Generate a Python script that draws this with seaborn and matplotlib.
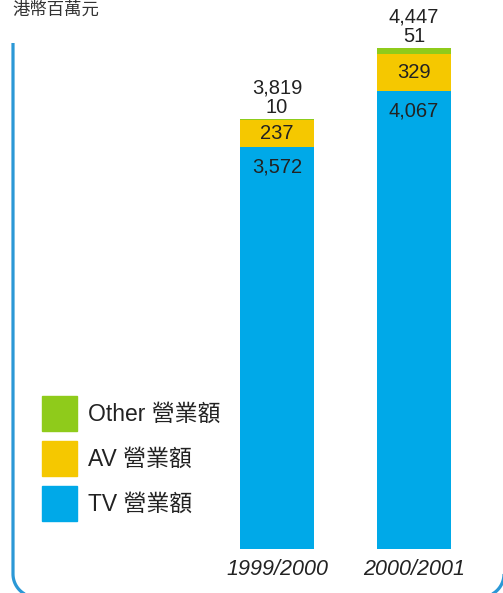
import matplotlib
matplotlib.use("Agg")
import matplotlib.pyplot as plt
from matplotlib.patches import Patch
from matplotlib.lines import Line2D
import seaborn as sns
import numpy as np
import pandas as pd

# data (HK$ million)
years  = ["1999/2000", "2000/2001"]
tv     = [3572, 4067]
av     = [237, 329]
other  = [10, 51]
labels = ["Other 營業額", "AV 營業額", "TV 營業額"]
unit   = "港幣百萬元"

c_tv, c_av, c_other = "#00A9E8", "#F5C800", "#8FCB1B"
txt = "#222222"

sns.set_theme(style="white")
plt.rcParams['font.family'] = ['Liberation Sans', 'Noto Sans CJK TC']

df = pd.DataFrame({"year": years, "TV": tv, "AV": av, "Other": other})
df["tv_av"] = df["TV"] + df["AV"]
df["total"] = df["tv_av"] + df["Other"]

W, H = 503, 593
fig = plt.figure(figsize=(W/100, H/100), dpi=100)
ax = fig.add_axes([208.5/W, 44/H, 274/W, 513/H])

# stacked bars: draw cumulative heights back to front
sns.barplot(ax=ax, data=df, x="year", y="total", color=c_other, saturation=1, width=0.54, linewidth=0)
sns.barplot(ax=ax, data=df, x="year", y="tv_av", color=c_av, saturation=1, width=0.54, linewidth=0)
sns.barplot(ax=ax, data=df, x="year", y="TV", color=c_tv, saturation=1, width=0.54, linewidth=0)

ax.set_xlim(-0.5, 1.5)
ax.set_ylim(0, 4553)
ax.set_yticks([])
ax.set_xlabel(""); ax.set_ylabel("")
ax.tick_params(axis="x", length=0, pad=7, labelsize=15.5, labelcolor=txt)
for lab in ax.get_xticklabels():
    lab.set_fontstyle("italic")
sns.despine(ax=ax, left=True, bottom=True)

fs = 14.5
for i, row in df.iterrows():
    ax.annotate(f"{row.TV:,}", (i, row.TV), xytext=(0, -20), textcoords="offset pixels",
                ha="center", va="center", fontsize=fs, color=txt)
    ax.annotate(f"{row.AV:,}", (i, row.TV + row.AV/2), ha="center", va="center", fontsize=fs, color=txt)
    ax.annotate(f"{row.Other:,}", (i, row.total), xytext=(0, 11), textcoords="offset pixels",
                ha="center", va="center", fontsize=fs, color=txt)
    ax.annotate(f"{row.total:,}", (i, row.total), xytext=(0, 31), textcoords="offset pixels",
                ha="center", va="center", fontsize=fs, color=txt)

handles = [Patch(color=c_other), Patch(color=c_av), Patch(color=c_tv)]
fig.legend(handles, labels, loc="upper left", bbox_to_anchor=(42/W, 1-396/H), frameon=False,
           borderpad=0, borderaxespad=0, fontsize=16.5, handlelength=1.52, handleheight=1.95,
           handletextpad=0.5, labelspacing=0.45, labelcolor=txt)

fig.text(12/W, 1-10/H, unit, fontsize=12.5, style="italic", color="#333333", va="center",
         family=["Noto Sans CJK TC"])

# rounded frame on the left / bottom (pixel coords, y measured from top)
r = 23
a1 = np.radians(np.linspace(180, 90, 24))
a2 = np.radians(np.linspace(90, 0, 24))
fx = np.concatenate([[13], 13 + r + r*np.cos(a1), 504 - r + r*np.cos(a2)])
fy = np.concatenate([[43], 597 - r + r*np.sin(a1), 597 - r + r*np.sin(a2)])
fig.add_artist(Line2D(fx/W, 1 - fy/H, color="#2B98D6", lw=2.3, solid_capstyle="butt",
                      transform=fig.transFigure, clip_on=False))

fig.savefig("out.png", dpi=100, facecolor="white")
